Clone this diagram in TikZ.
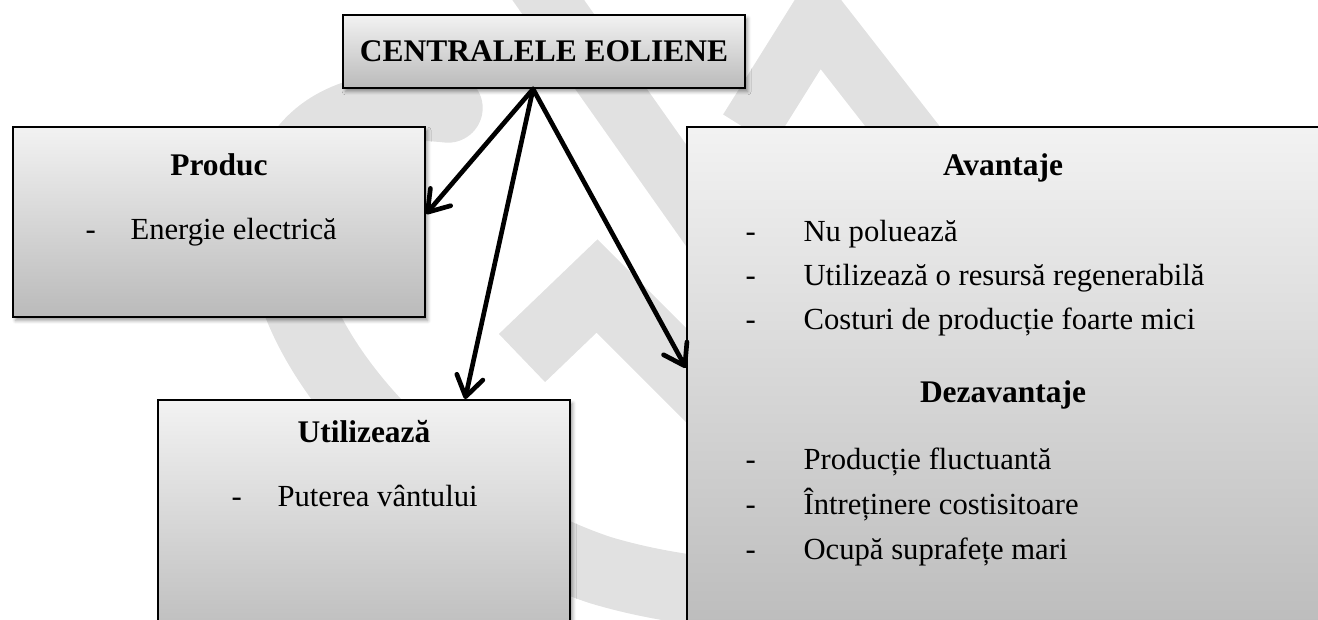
\documentclass[tikz,border=0pt]{standalone}
\usepackage{fontspec}
\setmainfont{Liberation Serif}
\usetikzlibrary{arrows.meta,shadows.blur,calc}
\definecolor{wm}{HTML}{E1E1E1}
\tikzset{
  box/.style={draw=black, line width=0.75pt, top color=black!5, bottom color=black!27,
    blur shadow={shadow xshift=1pt, shadow yshift=-1.3pt, shadow blur radius=1.3pt, shadow opacity=40}, inner sep=0pt},
  head/.style={font=\fontsize{11.8}{14}\selectfont\bfseries, anchor=base, inner sep=0pt},
  item/.style={font=\fontsize{11.5}{14}\selectfont, anchor=base west, inner sep=0pt},
  arr/.style={line width=1.75pt, line cap=round, -{Straight Barb[length=7.5pt,width=10pt,round]}},
  band/.style={draw=wm, line cap=butt},
}
\begin{document}
\begin{tikzpicture}[x=0.375pt,y=-0.375pt]
\useasboundingbox (0,0) rectangle (1318,619);
\clip (0,0) rectangle (1318,619);
% watermark
\draw[band, line width=26pt, line cap=round] (448,108) .. controls (330,95) and (265,150) .. (285,260) .. controls (305,380) and (450,520) .. (600,570) .. controls (650,585) and (700,592) .. (760,597);
\draw[band, line width=22pt] (520,-40) -- (760,300);
\draw[band, line width=25pt, line join=miter] (522,358) -- (597,286) -- (760,449);
\draw[band, line width=22pt, line join=miter] (748,130) -- (818,18) -- (960,200);
% boxes
\node[box, minimum width=150.75pt, minimum height=27.375pt] (top) at (544,51.5) {};
\node[box, minimum width=154.5pt, minimum height=71.25pt] (prod) at (219,222) {};
\node[box, minimum width=154.5pt, minimum height=93.75pt] (util) at (364,525) {};
\node[box, minimum width=244.9pt, minimum height=196.1pt] (adv) at (1013.5,388.5) {};
% texts
\node[head] (t0) at (544,61) {CENTRALELE EOLIENE};
\node[head] (h1) at (219,175) {Produc};
\node[item] (d1) at (85,239) {-};
\node[item] (i1) at (130,239) {Energie electrică};
\node[head] (h2) at (364,442) {Utilizează};
\node[item] (d2) at (231,506) {-};
\node[item] (i2) at (277,506) {Puterea vântului};
\node[head] (h3) at (1003,175) {Avantaje};
\node[item] (d3a) at (745,241) {-};
\node[item] (i3a) at (803,241) {Nu poluează};
\node[item] (d3b) at (745,285) {-};
\node[item] (i3b) at (803,285) {Utilizează o resursă regenerabilă};
\node[item] (d3c) at (745,329) {-};
\node[item] (i3c) at (803,329) {Costuri de producție foarte mici};
\node[head] (h4) at (1003,402) {Dezavantaje};
\node[item] (d4a) at (745,469) {-};
\node[item] (i4a) at (803,469) {Producție fluctuantă};
\node[item] (d4b) at (745,514) {-};
\node[item] (i4b) at (803,514) {Întreținere costisitoare};
\node[item] (d4c) at (745,559) {-};
\node[item] (i4c) at (803,559) {Ocupă suprafețe mari};
% arrows
\coordinate (src) at ([xshift=-4.1pt]top.south);
\draw[arr] (src) -- ([yshift=3pt]prod.east);
\draw[arr] (src) -- ([xshift=37.9pt]util.north);
\draw[arr] (src) -- ([yshift=7.7pt]adv.west);
\end{tikzpicture}
\end{document}
